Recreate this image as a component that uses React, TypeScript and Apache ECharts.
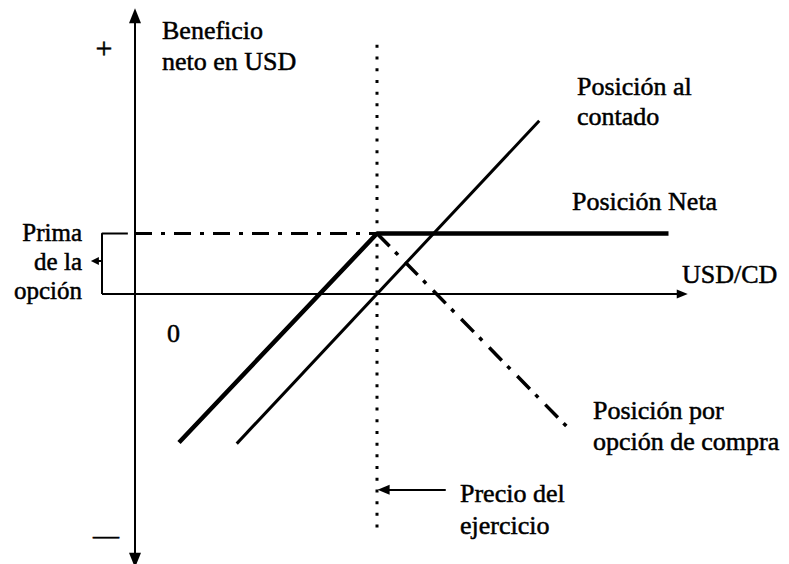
import React, { useEffect, useRef } from "react";
import * as echarts from "echarts";

// Diagram values (x = USD/CD price units, y = net profit units)
const strike = 44;
const premium = 11;
const xRange = [-10, 100];
const yRange = [-49, 52];
const netPosition = [[8, -27], [strike, premium], [97, premium]];
const spotPosition = [[18.5, -27.2], [73.5, 31.5]];
const callPosition = [[strike, premium], [79.5, -25.1]];
const premiumLine = [[0, premium], [strike, premium]];
const premiumBracket = [[-1.3, premium], [-6, premium], [-6, 0]];
const strikeLine = [[strike, 45.3], [strike, -43.5]];
const xAxisLine = [[-6, 0], [99.5, 0]];
const yAxisLine = [[0, -48.4], [0, 50.6]];
const bracketArrow = [[-6, 6], [-7.3, 6]];
const strikeArrow = [[56.5, -35.6], [45.2, -35.6]];

const labels = [
  { text: "+", x: 104, y: 47, align: "center", size: 30 },
  { text: "Beneficio", x: 162, y: 30, align: "left", size: 26 },
  { text: "neto en USD", x: 162, y: 61, align: "left", size: 26 },
  { text: "Posición al", x: 577, y: 86, align: "left", size: 26 },
  { text: "contado", x: 577, y: 116, align: "left", size: 26 },
  { text: "Posición Neta", x: 572, y: 201, align: "left", size: 26 },
  { text: "USD/CD", x: 682, y: 274, align: "left", size: 26 },
  { text: "Prima", x: 82, y: 232, align: "right", size: 25 },
  { text: "de la", x: 82, y: 261, align: "right", size: 25 },
  { text: "opción", x: 82, y: 290, align: "right", size: 25 },
  { text: "0", x: 167, y: 333, align: "left", size: 26 },
  { text: "Posición por", x: 593, y: 410, align: "left", size: 26 },
  { text: "opción de compra", x: 593, y: 441, align: "left", size: 26 },
  { text: "Precio del", x: 460, y: 493, align: "left", size: 26 },
  { text: "ejercicio", x: 460, y: 525, align: "left", size: 26 },
  { text: "—", x: 93, y: 535, align: "left", size: 26 },
];

const FONT = "Liberation Serif";

function arrowLine(pts: number[][], size: number[], startArrow = false) {
  return {
    symbol: [startArrow ? "triangle" : "none", "triangle"],
    symbolSize: size,
    silent: true,
    label: { show: false },
    lineStyle: { color: "#000", width: 2, type: "solid" },
    data: [[{ coord: pts[0] }, { coord: pts[1] }]],
  };
}

export default function App() {
  const ref = useRef<HTMLDivElement>(null);
  useEffect(() => {
    if (!ref.current) return;
    const chart = echarts.init(ref.current, null, { renderer: "svg" });
    const plain = (name: string, data: number[][], width: number, type: any) => ({
      name,
      type: "line",
      data,
      symbol: "none",
      silent: true,
      lineStyle: { color: "#000", width, type, cap: "butt" },
    });
    chart.setOption({
      animation: false,
      backgroundColor: "#fff",
      grid: { left: 80, right: 104, top: 8, bottom: 0.5, containLabel: false },
      xAxis: { type: "value", min: xRange[0], max: xRange[1], show: false },
      yAxis: { type: "value", min: yRange[0], max: yRange[1], show: false },
      series: [
        { ...plain("ejeX", [], 2, "solid"), markLine: arrowLine(xAxisLine, [9, 11]) },
        { ...plain("ejeY", [], 2, "solid"), markLine: arrowLine(yAxisLine, [12, 15], true) },
        { ...plain("flechaPrima", [], 2, "solid"), markLine: arrowLine(bracketArrow, [8, 8]) },
        { ...plain("flechaPrecio", [], 2, "solid"), markLine: arrowLine(strikeArrow, [10, 12]) },
        plain("Prima", premiumBracket, 2, "solid"),
        plain("Línea prima", premiumLine, 3, [17, 9, 4, 9]),
        plain("Precio del ejercicio", strikeLine, 3, [3, 8.7]),
        plain("Posición al contado", spotPosition, 3, "solid"),
        plain("Posición por opción de compra", callPosition, 3.5, [18, 8, 4, 10]),
        plain("Posición Neta", netPosition, 4.5, "solid"),
      ],
      graphic: labels.map((l) => ({
        type: "text",
        x: l.x,
        y: l.y,
        silent: true,
        style: {
          text: l.text,
          fill: "#000",
          stroke: "#000",
          lineWidth: 0.5,
          fontSize: l.size,
          fontFamily: FONT,
          align: l.align,
          verticalAlign: "middle",
        },
      })),
    });
    return () => chart.dispose();
  }, []);
  return (
    <div
      ref={ref}
      style={{ position: "absolute", left: 0, top: 0, width: 789, height: 564 }}
    />
  );
}
